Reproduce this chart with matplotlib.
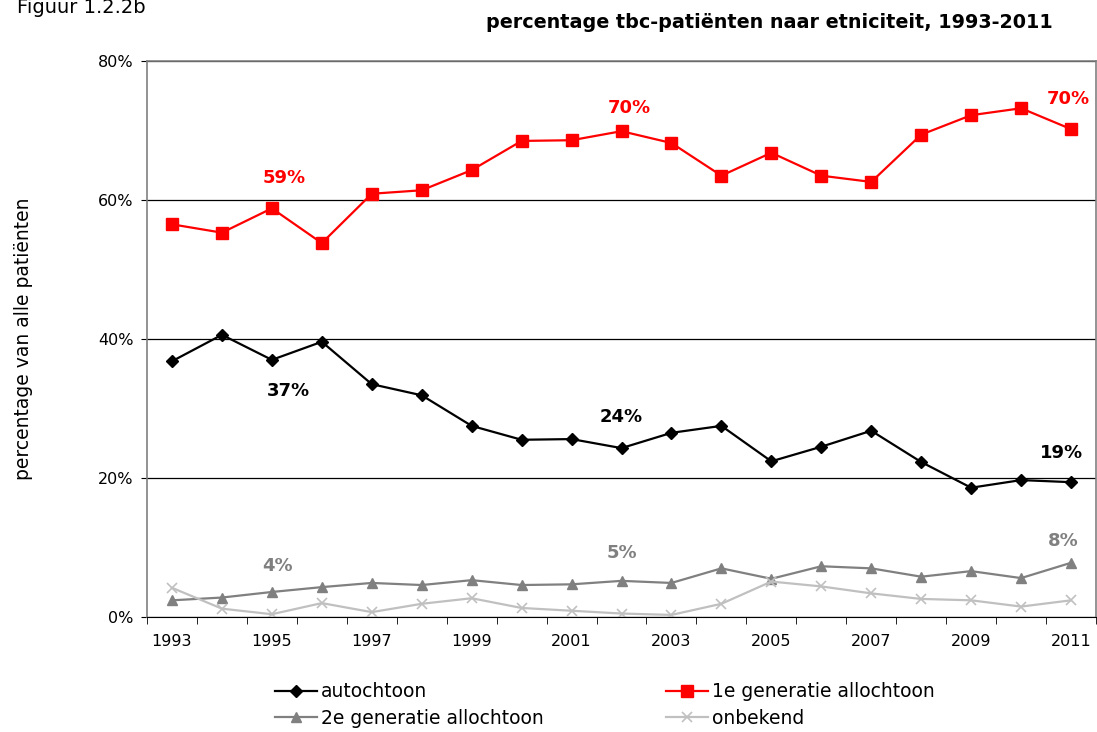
import numpy as np
import matplotlib
matplotlib.use("Agg")
import matplotlib.pyplot as plt
from matplotlib.ticker import FixedLocator, FuncFormatter

plt.rcParams['font.family'] = ['DejaVu Sans']

years = list(range(1993, 2012))
autochtoon = [36.8, 40.6, 37.0, 39.6, 33.5, 31.9, 27.5, 25.5, 25.6, 24.3,
              26.5, 27.5, 22.4, 24.5, 26.8, 22.3, 18.6, 19.7, 19.4]
eerste_gen = [56.5, 55.3, 58.8, 53.8, 60.9, 61.4, 64.3, 68.5, 68.6, 69.9,
              68.2, 63.5, 66.8, 63.5, 62.6, 69.4, 72.2, 73.2, 70.2]
tweede_gen = [2.4, 2.8, 3.6, 4.3, 4.9, 4.6, 5.3, 4.6, 4.7, 5.2,
              4.9, 7.0, 5.5, 7.3, 7.0, 5.8, 6.6, 5.6, 7.8]
onbekend = [4.2, 1.2, 0.4, 2.0, 0.7, 1.9, 2.7, 1.3, 0.9, 0.5,
            0.3, 1.9, 5.1, 4.4, 3.4, 2.6, 2.4, 1.5, 2.4]

# labels: (x position in categories, y value, text)
labels_red = [(2.25, 63.1, '59%'), (9.15, 73.3, '70%'), (17.95, 74.6, '70%')]
labels_black = [(2.33, 32.5, '37%'), (9.0, 28.8, '24%'), (17.8, 23.6, '19%')]
labels_gray = [(2.12, 7.3, '4%'), (9.0, 9.2, '5%'), (17.85, 11.0, '8%')]

RED = '#FF0000'
GRAY = '#808080'
LIGHT = '#C0C0C0'

fig = plt.figure(figsize=(10.97, 7.32), dpi=100)
ax = fig.add_axes([147 / 1097, 115 / 732, 949 / 1097, 556 / 732])

x = np.arange(len(years))
l1, = ax.plot(x, autochtoon, color='black', lw=1.6, marker='D', ms=6.5, label='autochtoon')
l2, = ax.plot(x, eerste_gen, color=RED, lw=1.6, marker='s', ms=8, label='1e generatie allochtoon')
l3, = ax.plot(x, tweede_gen, color=GRAY, lw=1.6, marker='^', ms=7.5, label='2e generatie allochtoon')
l4, = ax.plot(x, onbekend, color=LIGHT, lw=1.6, marker='x', ms=7, mew=1.2, label='onbekend')

ax.set_xlim(-0.5, len(years) - 0.5)
ax.set_ylim(0, 80)

ax.yaxis.set_major_locator(FixedLocator([0, 20, 40, 60, 80]))
ax.yaxis.set_major_formatter(FuncFormatter(lambda v, p: '%d%%' % v))
ax.grid(axis='y', color='black', lw=0.9)
ax.set_axisbelow(True)

ax.xaxis.set_major_locator(FixedLocator(x[::2]))
ax.set_xticklabels([str(y) for y in years[::2]])
ax.xaxis.set_minor_locator(FixedLocator(np.arange(-0.5, len(years), 1.0)))
ax.tick_params(axis='x', which='major', length=0, pad=12, labelsize=11.5)
ax.tick_params(axis='x', which='minor', length=5, direction='out')
ax.tick_params(axis='y', length=4.5, direction='out', labelsize=11.5, pad=5)

for s in ['left', 'right', 'top']:
    ax.spines[s].set_color(GRAY)
    ax.spines[s].set_linewidth(1.2)
ax.spines['bottom'].set_color('black')

ax.set_ylabel('percentage van alle patiënten', fontsize=13.5, labelpad=47)

for xi, v, t in labels_red:
    ax.text(xi, v, t, color=RED, fontsize=13, fontweight='bold', ha='center', va='center')
for xi, v, t in labels_black:
    ax.text(xi, v, t, color='black', fontsize=13, fontweight='bold', ha='center', va='center')
for xi, v, t in labels_gray:
    ax.text(xi, v, t, color=GRAY, fontsize=13, fontweight='bold', ha='center', va='center')

fig.text(17 / 1097, 1 - 13 / 732, 'Figuur 1.2.2b', fontsize=14, ha='left', va='baseline')
fig.text(1053 / 1097, 1 - 22 / 732, 'percentage tbc-patiënten naar etniciteit, 1993-2011',
         fontsize=13.75, fontweight='bold', ha='right', va='center')

fig.legend(handles=[l1, l3, l2, l4], ncol=2, frameon=False, fontsize=13.5,
           loc='center left', bbox_to_anchor=(262 / 1097, 1 - 705 / 732),
           handlelength=2.25, handletextpad=0.2, columnspacing=6.5, labelspacing=0.4,
           borderpad=0.2)

fig.savefig('out.png', dpi=100)
